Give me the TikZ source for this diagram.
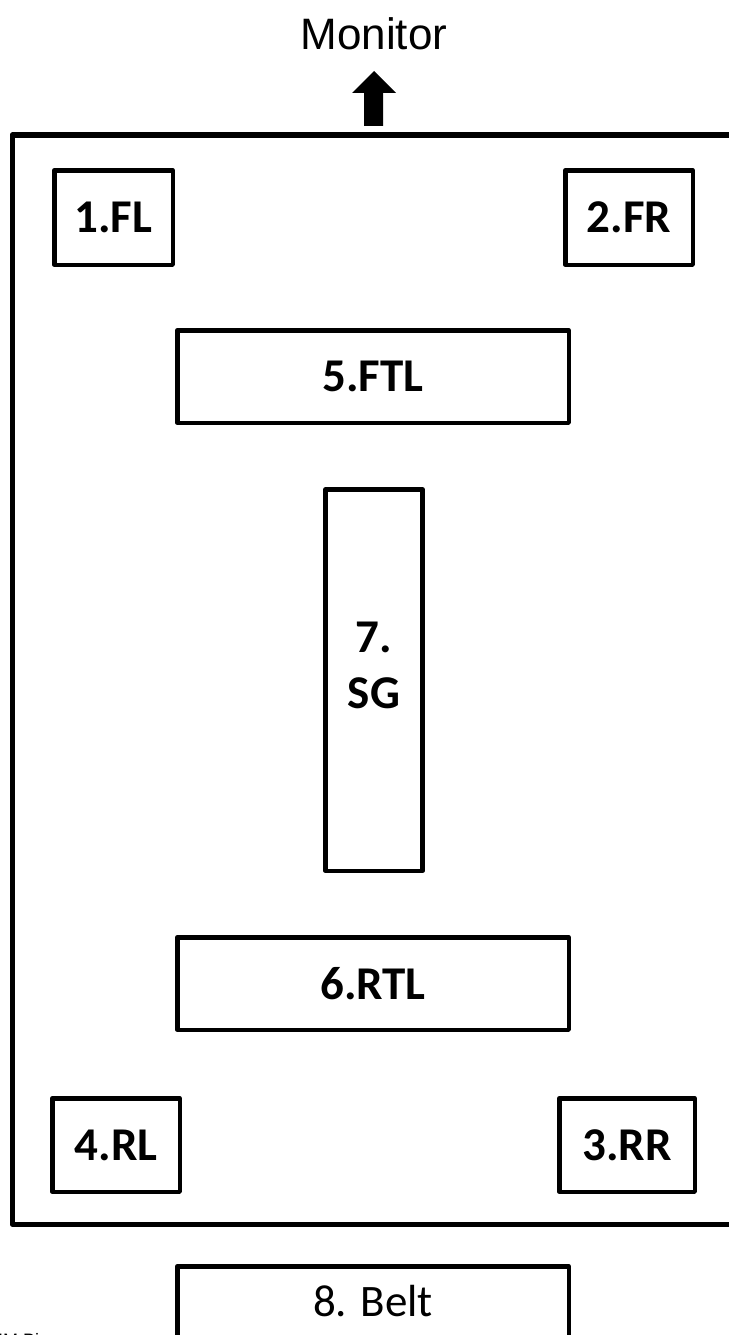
\documentclass[tikz,border=0pt]{standalone}
\usepackage{fontspec}
\setmainfont{Carlito}
\newfontfamily\arialfont{Liberation Sans}
\begin{document}
\begin{tikzpicture}[x=1pt,y=-1pt,
  box/.style={draw=black,line width=4.5pt,line join=round,inner sep=0pt,rectangle,fill=white},
  lbl/.style={font=\fontsize{47}{56}\selectfont\bfseries},
  frame/.style={draw=black,line width=5pt,line join=round}]
\useasboundingbox (0,0) rectangle (728,1335);
% outer frame
\draw[frame] (745,135) -- (12,135) -- (12,1224) -- (745,1224);
% monitor
\node[font=\arialfont\fontsize{44}{52}\selectfont,anchor=base] (mon) at (374,50) {Monitor};
\fill[black] (364,126) -- (364,93) -- (352,93) -- (374,71) -- (396,93) -- (383,93) -- (383,126) -- cycle;
% boxes
\node[box,lbl,minimum width=118.5pt,minimum height=94.5pt] (fl) at (113.5,217.5) {1.FL};
\node[box,lbl,minimum width=127.5pt,minimum height=94.5pt] (fr) at (629,217.5) {2.FR};
\node[box,lbl,minimum width=391.5pt,minimum height=92.5pt] (ftl) at (373,376.5) {5.FTL};
\node[box,minimum width=97pt,minimum height=381.5pt] (sg) at (374,680) {};
\node[lbl,align=center,inner sep=0pt] (sgtxt) at ([yshift=15pt]sg.center) {7.\\[0pt]SG};
\node[box,lbl,minimum width=391.5pt,minimum height=92.5pt] (rtl) at (373,983.5) {6.RTL};
\node[box,lbl,minimum width=127.5pt,minimum height=93.5pt] (rl) at (116,1145) {4.RL};
\node[box,lbl,minimum width=135.5pt,minimum height=93.5pt] (rr) at (627,1145) {3.RR};
\node[box,minimum width=391.5pt,minimum height=100pt,anchor=north] (belt) at (373,1264) {};
\node[font=\fontsize{45}{54}\selectfont,anchor=base] (belttxt) at (373,1316) {8. Belt};
\node[font=\arialfont\fontsize{18}{20}\selectfont,anchor=base west,inner sep=0pt] (note) at (-2,1346) {IM Bi};
\end{tikzpicture}
\end{document}
